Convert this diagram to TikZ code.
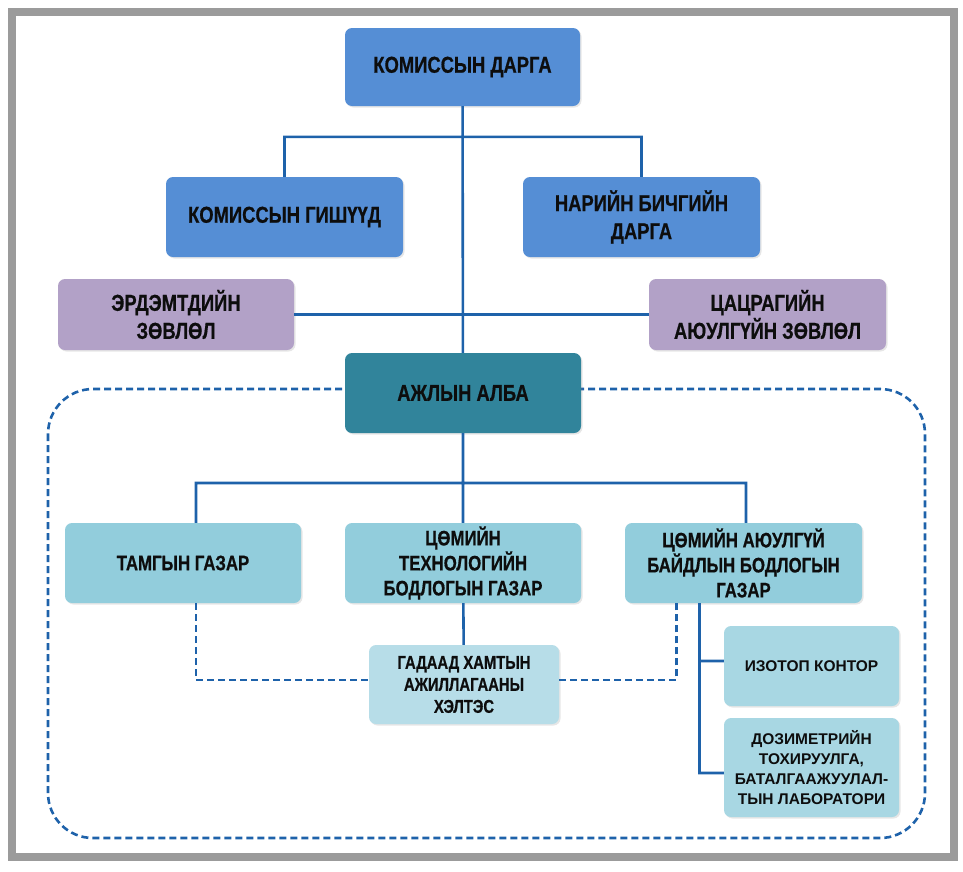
\documentclass[tikz,border=0pt]{standalone}
\usepackage{fontspec}
\setmainfont{Liberation Sans}
\newfontfamily\narrowfont[FakeStretch=0.8, FakeBold=0.6]{Liberation Sans}
\usepackage{xcolor}
\usepackage{tikz}
\usetikzlibrary{shadows}

\definecolor{dargablue}{RGB}{85,142,213}
\definecolor{zovlolpurple}{RGB}{178,161,199}
\definecolor{albateal}{RGB}{49,132,155}
\definecolor{gazarblue}{RGB}{146,205,220}
\definecolor{heltesblue}{RGB}{183,221,232}
\definecolor{linkblue}{RGB}{30,98,170}
\definecolor{framegray}{RGB}{155,155,155}

\tikzset{
  box/.style={rounded corners=7pt, align=center, text=black!95, inner sep=2pt,
              drop shadow={opacity=0.2, shadow xshift=1.5pt, shadow yshift=-1.5pt}},
  bigbox/.style={box, font=\narrowfont\bfseries\fontsize{23}{28}\selectfont},
  midbox/.style={box, font=\narrowfont\bfseries\fontsize{21}{25}\selectfont,
                 fill=gazarblue, minimum width=236pt, minimum height=80pt},
  smallbox/.style={box, font=\bfseries\fontsize{15.5}{20}\selectfont,
                   fill=gazarblue!80!white, minimum width=175pt},
  link/.style={draw=linkblue, line width=2.6pt},
  dashlink/.style={link, dash pattern=on 7pt off 4pt}
}

\begin{document}
\begin{tikzpicture}[x=1pt,y=-1pt]
        \useasboundingbox (0,0) rectangle (963,871);
        % outer frame
        \draw[framegray, line width=8pt] (11.5,11.5) rectangle (953.5,856.5);
        % dashed group of the working office
        \draw[dashlink, rounded corners=45pt] (48,389) rectangle (925,838);

        % top part
        \node[bigbox, fill=dargablue, minimum width=235pt, minimum height=78pt]
              (darga)    at (462.5,67)  {КОМИССЫН ДАРГА};
        \node[bigbox, fill=dargablue, minimum width=237pt, minimum height=80pt]
              (gishuud)  at (284.5,217) {КОМИССЫН ГИШҮҮД};
        \node[bigbox, fill=dargablue, minimum width=237pt, minimum height=80pt]
              (nariin)   at (641.5,217) {НАРИЙН БИЧГИЙН\\ДАРГА};
        \node[bigbox, fill=zovlolpurple, minimum width=236pt, minimum height=71pt]
              (erdem)    at (176,314.5) {ЭРДЭМТДИЙН\\ЗӨВЛӨЛ};
        \node[bigbox, fill=zovlolpurple, minimum width=237pt, minimum height=71pt]
              (tsatsrag) at (767.5,314.5) {ЦАЦРАГИЙН\\АЮУЛГҮЙН ЗӨВЛӨЛ};
        \node[bigbox, fill=albateal, minimum width=236pt, minimum height=80pt]
              (alba)     at (463,393)   {АЖЛЫН АЛБА};

        % departments
        \node[midbox] (tamga)   at (183,563)   {ТАМГЫН ГАЗАР};
        \node[midbox] (tech)    at (463,563)   {ЦӨМИЙН\\ТЕХНОЛОГИЙН\\БОДЛОГЫН ГАЗАР};
        \node[midbox, minimum width=237pt]
                      (ayulgui) at (743.5,563) {ЦӨМИЙН АЮУЛГҮЙ\\БАЙДЛЫН БОДЛОГЫН\\ГАЗАР};
        \node[box, fill=heltesblue, font=\narrowfont\bfseries\fontsize{18.5}{22}\selectfont,
              minimum width=190pt, minimum height=79pt]
                      (gadaad)  at (464,684.5) {ГАДААД ХАМТЫН\\АЖИЛЛАГААНЫ\\ХЭЛТЭС};
        \node[smallbox, minimum height=80pt] (izotop) at (811.5,666)   {ИЗОТОП КОНТОР};
        \node[smallbox, minimum height=99pt] (dozi)   at (811.5,767.5)
              {ДОЗИМЕТРИЙН\\ТОХИРУУЛГА,\\БАТАЛГААЖУУЛАЛ-\\ТЫН ЛАБОРАТОРИ};

        % connectors
        \coordinate (fork) at (463,483);
        \draw[link] (darga) -- (alba)
              (gishuud.north) -- ++(0,-40) -| (nariin.north)
              (erdem) -- (tsatsrag)
              (alba) -- (tech)
              ([xshift=13pt]tamga.north) |- (fork) -| ([xshift=2.5pt]ayulgui.north)
              (tech) -- (gadaad)
              ([xshift=-44pt]ayulgui.south) |- ([yshift=-5.5pt]dozi.west)
              ([yshift=5pt]izotop.west) -- ++(-25,0);
        \draw[dashlink] ([xshift=13pt]tamga.south) |- ([yshift=4.5pt]gadaad.west)
              ([yshift=4.5pt]gadaad.east) -| ([xshift=-67pt]ayulgui.south);
    \end{tikzpicture}
\end{document}
